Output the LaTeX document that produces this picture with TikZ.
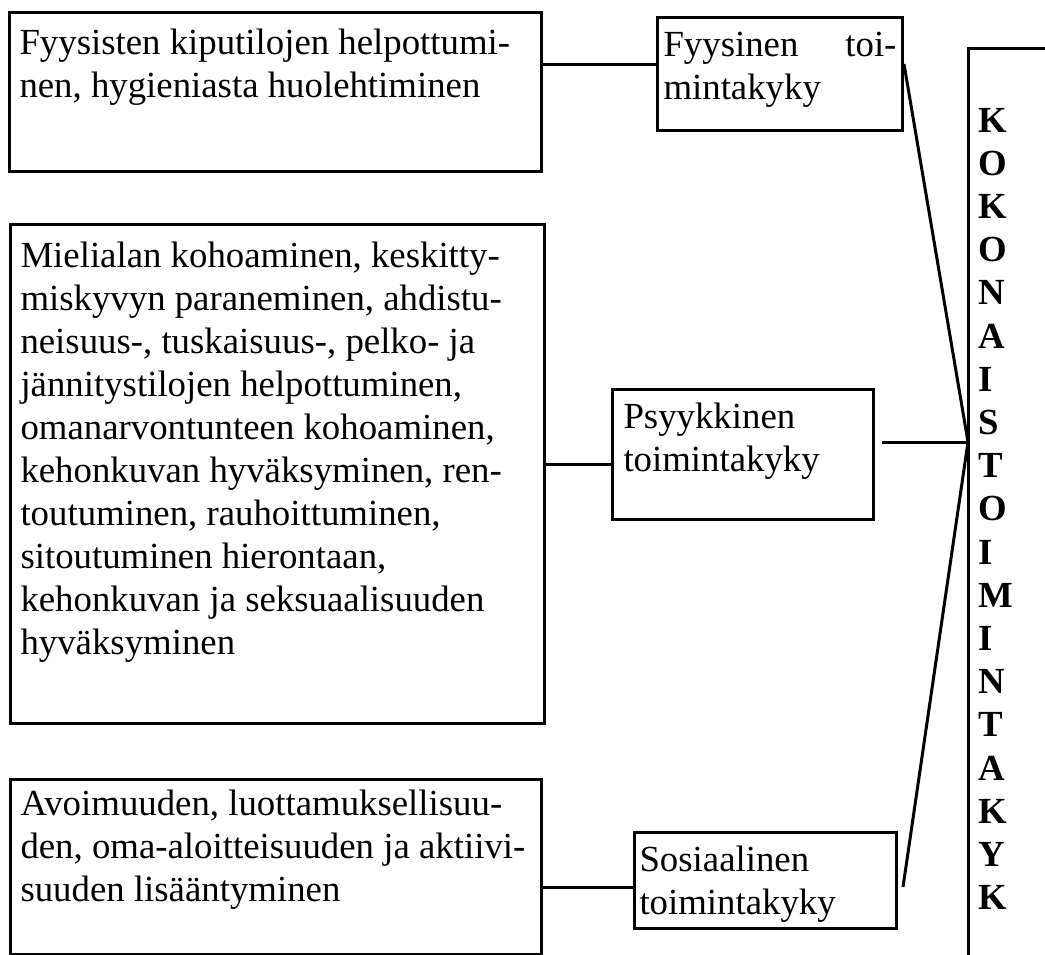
\documentclass[tikz,border=0pt]{standalone}
\usepackage{fontspec}
\setmainfont{Liberation Serif}
\newcommand\bxtext[5]{\parbox[t][#2][t]{#1}{\hspace*{#4}\parbox[t]{\dimexpr#1-#4-#4\relax}{\raggedright\rule{0pt}{#3}#5}}}
\tikzset{
  bx/.style={draw, line width=3pt, inner sep=0pt, anchor=north west, font=\fontsize{36.8}{43}\selectfont},
  ln/.style={line width=3pt},
  vert/.style={inner sep=0pt, anchor=base west, font=\fontsize{36.8}{43.2}\selectfont\bfseries}
}
\begin{document}
\begin{tikzpicture}[x=1pt,y=-1pt]
\useasboundingbox (0,0) rectangle (1045,954);
% left boxes
\node[bx] (a) at (8,11) {\bxtext{532pt}{159pt}{42pt}{10pt}{Fyysisten kiputilojen helpottumi-\\nen, hygieniasta huolehtiminen}};
\node[bx] (b) at (9,223) {\bxtext{534pt}{499pt}{43pt}{10pt}{Mielialan kohoaminen, keskitty-\\miskyvyn paraneminen, ahdistu-\\neisuus-, tuskaisuus-, pelko- ja\\jännitystilojen helpottuminen,\\omanarvontunteen kohoaminen,\\kehonkuvan hyväksyminen, ren-\\toutuminen, rauhoittuminen,\\sitoutuminen hierontaan,\\kehonkuvan ja seksuaalisuuden\\hyväksyminen}};
\node[bx] (c) at (9,778) {\bxtext{531pt}{175pt}{36pt}{10pt}{Avoimuuden, luottamuksellisuu-\\den, oma-aloitteisuuden ja aktiivi-\\suuden lisääntyminen}};
% middle boxes
\node[bx] (f) at (656,16) {\bxtext{245pt}{113pt}{39pt}{6pt}{Fyysinen\hfill toi-\\mintakyky}};
\node[bx] (p) at (611,388) {\bxtext{261pt}{130pt}{39pt}{11pt}{Psyykkinen\\toimintakyky}};
\node[bx] (s) at (633,831) {\bxtext{262pt}{96pt}{39pt}{5pt}{Sosiaalinen\\toimintakyky}};
% helper coordinates
\coordinate (yA) at (0,64);
\coordinate (yB) at (0,464);
\coordinate (yC) at (0,887);
\coordinate (hub) at (968,442);
\coordinate (vt) at (968,48);
\coordinate (vb) at (968,956);
\coordinate (vr) at (1046,48);
% connectors
\draw[ln] (a.east |- yA) -- (f.west |- yA);
\draw[ln] (f.east |- yA) -- (hub);
\draw[ln] (b.east |- yB) -- (p.west |- yB);
\draw[ln] ([xshift=7pt]p.east |- hub) -- (hub);
\draw[ln] (c.east |- yC) -- (s.west |- yC);
\draw[ln] ([xshift=5pt]s.east |- yC) -- (hub);
% right bracket
\draw[ln] (vr) -- (vt) -- (vb);
\node[vert] (kt) at (978,132) {\parbox[t]{40pt}{\raggedright K\\O\\K\\O\\N\\A\\I\\S\\T\\O\\I\\M\\I\\N\\T\\A\\K\\Y\\K}};
\end{tikzpicture}
\end{document}
